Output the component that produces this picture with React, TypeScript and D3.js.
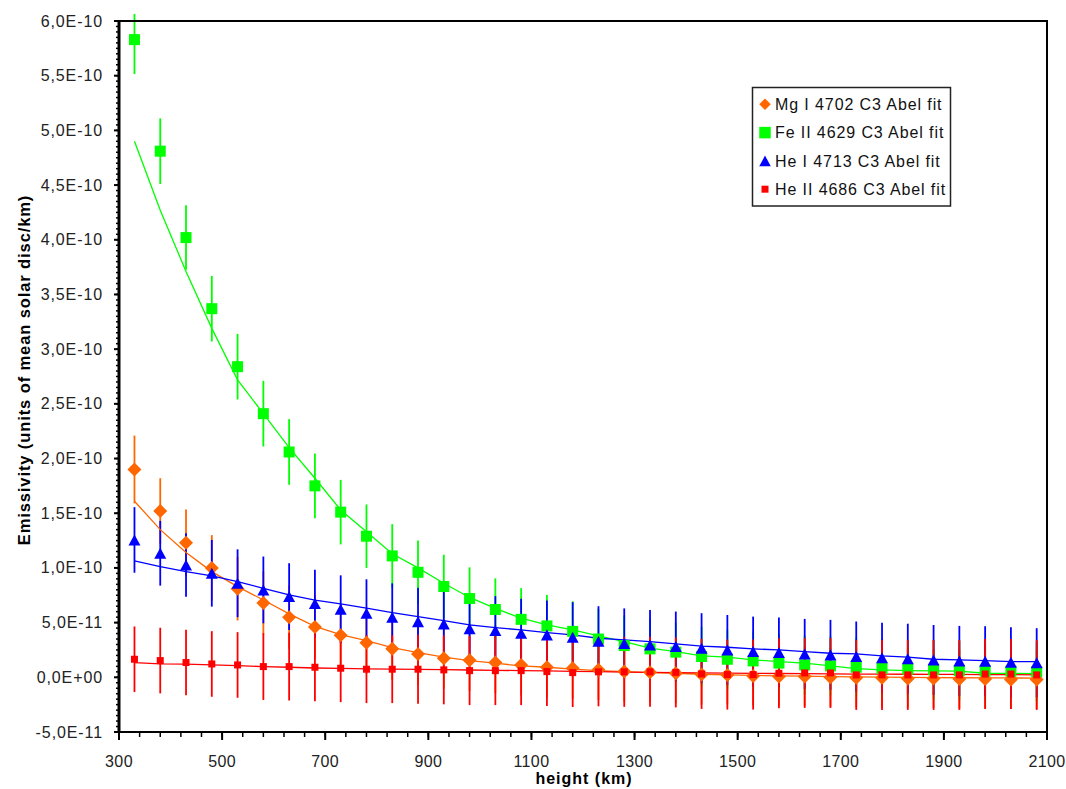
import React from "react";
import * as d3 from "d3";

// heights (km)
const heights = [330, 380, 430, 480, 530, 580, 630, 680, 730, 780, 830, 880, 930, 980, 1030, 1080, 1130, 1180, 1230, 1280, 1330, 1380, 1430, 1480, 1530, 1580, 1630, 1680, 1730, 1780, 1830, 1880, 1930, 1980, 2030, 2080];

// values in units of 1E-11
const mgPoints = [19.0, 15.2, 12.3, 10.0, 8.1, 6.8, 5.5, 4.6, 3.85, 3.17, 2.6, 2.14, 1.74, 1.55, 1.35, 1.13, 0.92, 0.83, 0.68, 0.52, 0.47, 0.37, 0.25, 0.22, 0.13, 0.07, 0.07, 0.0, -0.05, -0.05, -0.1, -0.1, -0.15, -0.15, -0.2, -0.2];
const mgErr = [3.1, 3.0, 3.05, 3.0, 2.9, 2.9, 2.9, 2.9, 2.9, 2.85, 2.85, 2.85, 2.8, 2.8, 2.8, 2.8, 2.8, 2.8, 2.75, 2.75, 2.75, 2.75, 2.75, 2.7, 2.7, 2.7, 2.7, 2.7, 2.7, 2.7, 2.7, 2.7, 2.7, 2.7, 2.7, 2.7];
const mgFit = [16.1, 13.5, 11.4, 9.66, 8.29, 7.07, 5.8, 4.65, 3.9, 3.36, 2.72, 2.26, 1.84, 1.53, 1.29, 1.04, 0.92, 0.74, 0.61, 0.52, 0.43, 0.37, 0.28, 0.22, 0.17, 0.13, 0.1, 0.07, 0.04, 0.02, 0.0, -0.02, -0.04, -0.05, -0.06, -0.07];

const fePoints = [58.3, 48.1, 40.2, 33.7, 28.4, 24.1, 20.6, 17.5, 15.1, 12.9, 11.1, 9.6, 8.3, 7.2, 6.2, 5.3, 4.7, 4.2, 3.5, 2.9, 2.6, 2.3, 1.9, 1.65, 1.5, 1.3, 1.13, 1.04, 0.92, 0.83, 0.74, 0.68, 0.61, 0.58, 0.56, 0.52];
const feErr = [3.15, 3.0, 2.95, 3.0, 3.0, 3.0, 3.0, 2.95, 2.95, 2.9, 2.9, 2.9, 2.9, 2.85, 2.85, 2.85, 2.83, 2.75, 2.75, 2.75, 2.75, 2.7, 2.7, 2.7, 2.7, 2.7, 2.7, 2.7, 2.7, 2.7, 2.7, 2.7, 2.7, 2.7, 2.7, 2.7];
const feFit = [49.0, 42.7, 37.1, 31.9, 27.2, 24.1, 21.0, 18.2, 15.3, 13.3, 11.3, 10.0, 8.6, 7.3, 6.3, 5.4, 4.8, 4.33, 3.78, 3.26, 2.66, 2.35, 1.96, 1.84, 1.6, 1.44, 1.29, 1.04, 0.8, 0.68, 0.61, 0.58, 0.56, 0.37, 0.35, 0.33];

const heIPoints = [12.56, 11.34, 10.27, 9.51, 8.6, 7.99, 7.38, 6.74, 6.22, 5.86, 5.49, 5.09, 4.88, 4.45, 4.27, 4.03, 3.88, 3.67, 3.3, 3.1, 2.96, 2.81, 2.66, 2.5, 2.35, 2.26, 2.14, 2.05, 1.9, 1.78, 1.7, 1.58, 1.5, 1.47, 1.38, 1.33];
const heIErr = [3.0, 2.96, 2.9, 3.05, 3.1, 3.05, 3.05, 3.1, 3.1, 3.1, 3.1, 3.1, 3.1, 3.1, 3.15, 3.15, 3.15, 3.2, 3.2, 3.2, 3.2, 3.2, 3.2, 3.2, 3.2, 3.2, 3.2, 3.2, 3.2, 3.2, 3.2, 3.2, 3.2, 3.2, 3.2, 3.16];
const heIFit = [10.64, 10.12, 9.66, 9.27, 8.75, 8.14, 7.53, 7.05, 6.71, 6.32, 5.91, 5.55, 5.18, 4.79, 4.54, 4.33, 4.09, 3.88, 3.57, 3.42, 3.26, 3.05, 2.85, 2.75, 2.6, 2.5, 2.35, 2.2, 2.14, 1.96, 1.84, 1.65, 1.59, 1.53, 1.44, 1.44];

const heIIPoints = [1.65, 1.53, 1.35, 1.22, 1.13, 0.98, 0.98, 0.92, 0.83, 0.74, 0.74, 0.74, 0.68, 0.61, 0.61, 0.61, 0.52, 0.43, 0.5, 0.5, 0.5, 0.45, 0.31, 0.25, 0.25, 0.37, 0.4, 0.4, 0.22, 0.22, 0.22, 0.22, 0.22, 0.3, 0.3, 0.22];
const heIIErr = [3.0, 3.0, 3.0, 3.0, 3.0, 3.05, 3.1, 3.1, 3.1, 3.1, 3.1, 3.15, 3.15, 3.15, 3.15, 3.15, 3.15, 3.15, 3.15, 3.2, 3.2, 3.2, 3.2, 3.2, 3.2, 3.2, 3.2, 3.2, 3.2, 3.2, 3.2, 3.2, 3.2, 3.2, 3.2, 3.2];
const heIIFit = [1.35, 1.22, 1.2, 1.13, 1.07, 0.98, 0.92, 0.85, 0.82, 0.78, 0.75, 0.72, 0.7, 0.67, 0.64, 0.61, 0.58, 0.55, 0.52, 0.48, 0.45, 0.42, 0.4, 0.38, 0.36, 0.35, 0.33, 0.32, 0.3, 0.29, 0.28, 0.27, 0.26, 0.25, 0.24, 0.23];

const seriesNames = ["Mg I 4702 C3 Abel fit", "Fe II 4629 C3 Abel fit", "He I 4713 C3 Abel fit", "He II 4686 C3 Abel fit"];
const yTickValues = [-5e-11, 0, 5e-11, 1e-10, 1.5e-10, 2e-10, 2.5e-10, 3e-10, 3.5e-10, 4e-10, 4.5e-10, 5e-10, 5.5e-10, 6e-10];
const yTickLabels = ["-5,0E-11", "0,0E+00", "5,0E-11", "1,0E-10", "1,5E-10", "2,0E-10", "2,5E-10", "3,0E-10", "3,5E-10", "4,0E-10", "4,5E-10", "5,0E-10", "5,5E-10", "6,0E-10"];
const xTickValues = [300, 500, 700, 900, 1100, 1300, 1500, 1700, 1900, 2100];

const W = 1066, H = 789;
const L = 119, T = 21, R = 1047, B = 732;
const UNIT = 1e-11;

type Series = { name: string; color: string; lineColor: string; pts: number[]; err: number[]; fit: number[]; marker: string; size: number };

const series: Series[] = [
  { name: seriesNames[0], color: "#FF6600", lineColor: "#FF6600", pts: mgPoints, err: mgErr, fit: mgFit, marker: "diamond", size: 14 },
  { name: seriesNames[1], color: "#00FF00", lineColor: "#00FF00", pts: fePoints, err: feErr, fit: feFit, marker: "square", size: 11 },
  { name: seriesNames[2], color: "#0000FF", lineColor: "#0000FF", pts: heIPoints, err: heIErr, fit: heIFit, marker: "triangle", size: 12 },
  { name: seriesNames[3], color: "#FF0000", lineColor: "#FF0000", pts: heIIPoints, err: heIIErr, fit: heIIFit, marker: "square", size: 7 },
];

function Marker({ kind, x, y, size, color }: { kind: string; x: number; y: number; size: number; color: string }) {
  const h = size / 2;
  if (kind === "diamond") {
    return <polygon points={`${x},${y - h} ${x + h},${y} ${x},${y + h} ${x - h},${y}`} fill={color} />;
  }
  if (kind === "triangle") {
    const th = size * 0.92;
    return <polygon points={`${x},${y - th / 2} ${x + h},${y + th / 2} ${x - h},${y + th / 2}`} fill={color} />;
  }
  return <rect x={x - h} y={y - h} width={size} height={size} fill={color} />;
}

export default function App() {
  const x = d3.scaleLinear().domain([300, 2100]).range([L, R]);
  const y = d3.scaleLinear().domain([-5e-11, 6e-10]).range([B, T]);
  const line = d3.line<[number, number]>().x((d) => x(d[0])).y((d) => y(d[1] * UNIT));

  const yMinor = d3.range(-50, 601, 5).map((v) => v * 1e-12);
  const xMinor = d3.range(300, 2101, 40);

  const font = "Arial, 'Liberation Sans', sans-serif";

  return (
    <svg width={W} height={H} style={{ position: "absolute", left: 0, top: 0, background: "#fff" }} fontFamily={font}>
      <defs>
        <clipPath id="plotclip">
          <rect x={L} y={T - 7} width={R - L} height={B - T + 7} />
        </clipPath>
      </defs>
      <rect x={0} y={0} width={W} height={H} fill="#fff" />

      <g clipPath="url(#plotclip)">
        {series.map((s, si) => (
          <g key={"e" + si}>
            {heights.map((h, i) => (
              <line key={i} x1={x(h)} x2={x(h)} y1={y((s.pts[i] - s.err[i]) * UNIT)} y2={y((s.pts[i] + s.err[i]) * UNIT)} stroke={s.color} strokeWidth={1.8} />
            ))}
          </g>
        ))}
        {series.map((s, si) => (
          <path key={"l" + si} d={line(heights.map((h, i) => [h, s.fit[i]] as [number, number])) || ""} fill="none" stroke={s.lineColor} strokeWidth={1.3} />
        ))}
        {series.map((s, si) => (
          <g key={"m" + si}>
            {heights.map((h, i) => (
              <Marker key={i} kind={s.marker} x={x(h)} y={y(s.pts[i] * UNIT)} size={s.size} color={s.color} />
            ))}
          </g>
        ))}
      </g>

      {/* frame */}
      <rect x={L} y={T} width={R - L} height={B - T} fill="none" stroke="#000" strokeWidth={2} />
      <line x1={L} x2={L} y1={T - 1} y2={B + 1} stroke="#000" strokeWidth={3} />

      {/* y ticks */}
      {yMinor.map((v, i) => (
        <line key={"ym" + i} x1={L - 3} x2={L} y1={y(v)} y2={y(v)} stroke="#000" strokeWidth={1.5} />
      ))}
      {yTickValues.map((v, i) => (
        <g key={"yt" + i}>
          <line x1={L - 5} x2={L} y1={y(v)} y2={y(v)} stroke="#000" strokeWidth={2} />
          <text x={103} y={y(v) + 5.5} textAnchor="end" fontSize={16} letterSpacing={0.9} fill="#222">{yTickLabels[i]}</text>
        </g>
      ))}

      {/* x ticks */}
      {xMinor.map((v, i) => (
        <line key={"xm" + i} x1={x(v)} x2={x(v)} y1={B} y2={B + 5} stroke="#000" strokeWidth={1.5} />
      ))}
      {xTickValues.map((v, i) => (
        <g key={"xt" + i}>
          <line x1={x(v)} x2={x(v)} y1={B} y2={B + 8} stroke="#000" strokeWidth={2} />
          <text x={x(v)} y={766.5} textAnchor="middle" fontSize={16} letterSpacing={0.4} fill="#222">{v}</text>
        </g>
      ))}

      {/* axis titles */}
      <text transform={`translate(30,370) rotate(-90)`} textAnchor="middle" fontSize={16.5} letterSpacing={0.9} fontWeight="bold" fill="#000">Emissivity (units of mean solar disc/km)</text>
      <text x={584} y={784} textAnchor="middle" fontSize={16} letterSpacing={1} fontWeight="bold" fill="#000">height (km)</text>

      {/* legend */}
      <rect x={752.5} y={87.5} width={198} height={118.5} fill="#fff" stroke="#222" strokeWidth={1.5} />
      {series.map((s, si) => {
        const cy = 104.3 + si * 28.3;
        return (
          <g key={"lg" + si}>
            <Marker kind={s.marker} x={765} y={cy} size={s.marker === "square" && s.size < 8 ? 7 : 11.5} color={s.color} />
            <text x={775} y={cy + 5.8} fontSize={16} letterSpacing={0.9} fill="#111">{s.name}</text>
          </g>
        );
      })}
    </svg>
  );
}
